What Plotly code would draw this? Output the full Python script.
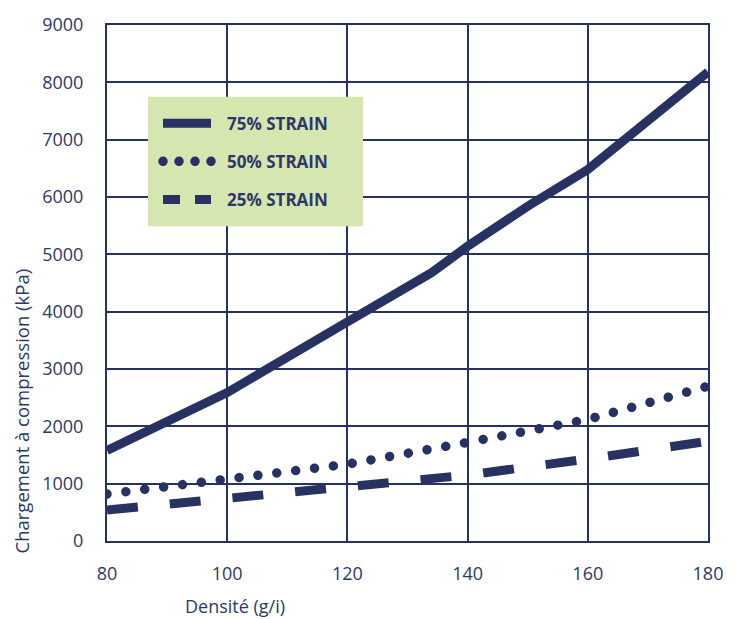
import plotly.graph_objects as go

# ---- data ----
x75 = [80, 100, 120, 134, 140, 150, 160, 170, 180]
y75 = [1580, 2590, 3820, 4680, 5140, 5840, 6480, 7320, 8180]
x50 = [80, 100, 120, 140, 160, 180]
y50 = [820, 1060, 1340, 1720, 2120, 2700]
x25 = [80, 100, 120, 140, 160, 180]
y25 = [540, 750, 950, 1150, 1430, 1740]
names = ["75% STRAIN", "50% STRAIN", "25% STRAIN"]
x_ticks = [80, 100, 120, 140, 160, 180]
y_ticks = [0, 1000, 2000, 3000, 4000, 5000, 6000, 7000, 8000, 9000]

NAVY = "#283262"
TXT = "#2d3868"
GREEN = "#d5e6b1"

fig = go.Figure()
fig.add_trace(go.Scatter(x=x75, y=y75, mode="lines", name=names[0], legendgroup="a",
                         line=dict(color=NAVY, width=9)))
fig.add_trace(go.Scatter(x=x50, y=y50, mode="lines", name=names[1], legendgroup="b",
                         line=dict(color=NAVY, width=9.5, dash="1px,18px")))
fig.add_trace(go.Scatter(x=x25, y=y25, mode="lines", name=names[2], legendgroup="c",
                         line=dict(color=NAVY, width=9, dash="31px,32px")))

W, H = 737, 619
L, R, T, B = 107, 29, 23, 78
PW, PH = W - L - R, H - T - B

fig.update_layout(
    width=W, height=H,
    margin=dict(l=L, r=R, t=T, b=B),
    paper_bgcolor="white", plot_bgcolor="white",
    font=dict(family="Open Sans", color=TXT),
    showlegend=True,
    legend=dict(x=(187 - L) / PW, y=(541 - 104) / PH, xanchor="left", yanchor="top",
                bgcolor="rgba(0,0,0,0)", tracegroupgap=13,
                font=dict(size=17, color=TXT, family="Open Sans", weight="bold")),
    shapes=[dict(type="rect", xref="paper", yref="paper",
                 x0=(148 - L) / PW, x1=(363 - L) / PW,
                 y0=(541 - 225) / PH, y1=(541 - 95) / PH,
                 fillcolor=GREEN, line=dict(width=0), layer="above")],
    annotations=[
        dict(text="Densité (g/i)", xref="paper", yref="paper",
             x=(235 - L) / PW, y=-(606 - 541) / PH,
             showarrow=False, font=dict(size=18, color=TXT), xanchor="center", yanchor="middle"),
        dict(text="Chargement à compression (kPa)", xref="paper", yref="paper",
             x=-(107 - 22) / PW, y=(541 - 410) / PH, textangle=-90,
             showarrow=False, font=dict(size=18.5, color=TXT), xanchor="center", yanchor="middle"),
    ],
)
fig.update_xaxes(range=[80, 180], tickvals=x_ticks, showgrid=True, gridcolor=NAVY, gridwidth=2,
                 showline=True, linecolor=NAVY, linewidth=2, mirror=True, zeroline=False,
                 ticks="", tickfont=dict(size=18, color=TXT), ticklabelstandoff=15)
fig.update_yaxes(range=[0, 9000], tickvals=y_ticks, showgrid=True, gridcolor=NAVY, gridwidth=2,
                 showline=True, linecolor=NAVY, linewidth=2, mirror=True, zeroline=False,
                 ticks="", tickfont=dict(size=18, color=TXT), ticklabelstandoff=18)

post = """
document.body.style.margin = '0';
document.body.style.overflow = 'hidden';
var gd = document.querySelector('.plotly-graph-div');
function fix(){
  var tr = gd.querySelectorAll('.scatterlayer .trace');
  if (tr.length > 1) tr[1].querySelectorAll('path.js-line').forEach(function(p){
    p.style.strokeLinecap='round'; p.style.strokeDasharray='0.01px,19px';});
  gd.querySelectorAll('.legend .scrollbox, .legend').forEach(function(s){
    s.removeAttribute('clip-path'); s.style.clipPath = 'none'; });
  var lg = gd.querySelectorAll('.legend .traces');
  lg.forEach(function(t, i){
    t.querySelectorAll('.legendlines path').forEach(function(p){
      p.setAttribute('d', 'M-24,0h48');
      if (i === 1){ p.style.strokeLinecap='round'; p.style.strokeDasharray='0.01px,15.99px';
                    p.style.strokeWidth='9.5px'; p.setAttribute('d', 'M-24,0h48.1'); }
      if (i === 2){ p.style.strokeDasharray='17px,15px'; }
    });
  });
}
fix();
setTimeout(fix, 50); setTimeout(fix, 200); setTimeout(fix, 600);
gd.on && gd.on('plotly_afterplot', function(){ setTimeout(fix, 0); });
"""
fig.write_html("out.html", post_script=post, config={"displayModeBar": False})
